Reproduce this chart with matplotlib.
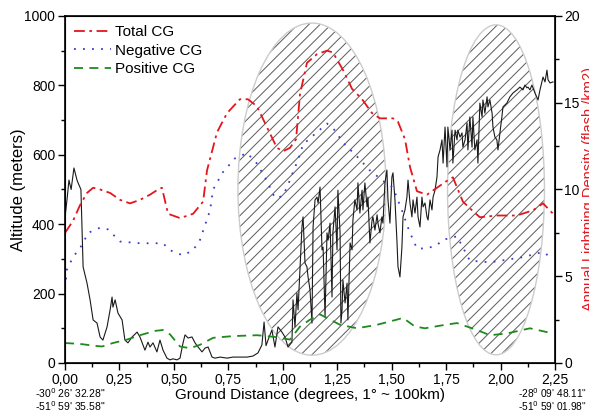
import matplotlib
matplotlib.use("Agg")
import matplotlib.pyplot as plt
from matplotlib.patches import Ellipse
from matplotlib.ticker import MultipleLocator, FuncFormatter

plt.rcParams['font.family'] = ['Liberation Sans', 'DejaVu Sans']
plt.rcParams['hatch.linewidth'] = 0.7

# altitude profile (black line)
alt_dist = [0.000, 0.009, 0.018, 0.028, 0.041, 0.055, 0.060, 0.073, 0.078, 0.083,
            0.101, 0.115, 0.129, 0.147, 0.161, 0.174, 0.193, 0.207, 0.216, 0.220,
            0.230, 0.243, 0.262, 0.275, 0.289, 0.308, 0.331, 0.344, 0.367, 0.381,
            0.390, 0.404, 0.422, 0.436, 0.450, 0.468, 0.482, 0.496, 0.514, 0.528,
            0.542, 0.551, 0.565, 0.583, 0.597, 0.611, 0.629, 0.643, 0.657, 0.675,
            0.689, 0.712, 0.744, 0.771, 0.803, 0.836, 0.863, 0.886, 0.904, 0.914,
            0.923, 0.932, 0.950, 0.964, 0.978, 0.996, 1.010, 1.024, 1.042, 1.047,
            1.056, 1.065, 1.070, 1.088, 1.093, 1.102, 1.111, 1.116, 1.125, 1.134,
            1.139, 1.148, 1.157, 1.162, 1.171, 1.180, 1.185, 1.194, 1.203, 1.208,
            1.217, 1.226, 1.230, 1.240, 1.249, 1.253, 1.263, 1.267, 1.272, 1.276,
            1.286, 1.295, 1.299, 1.309, 1.318, 1.322, 1.331, 1.341, 1.345, 1.354,
            1.364, 1.368, 1.377, 1.387, 1.391, 1.400, 1.410, 1.414, 1.423, 1.433,
            1.437, 1.446, 1.455, 1.460, 1.469, 1.478, 1.483, 1.492, 1.501, 1.506,
            1.515, 1.524, 1.529, 1.538, 1.547, 1.552, 1.561, 1.570, 1.575, 1.584,
            1.593, 1.598, 1.607, 1.616, 1.621, 1.630, 1.639, 1.644, 1.653, 1.662,
            1.667, 1.676, 1.685, 1.690, 1.699, 1.708, 1.713, 1.722, 1.731, 1.736,
            1.745, 1.754, 1.758, 1.768, 1.777, 1.781, 1.791, 1.800, 1.804, 1.814,
            1.823, 1.827, 1.837, 1.846, 1.850, 1.859, 1.869, 1.873, 1.882, 1.892,
            1.896, 1.905, 1.915, 1.919, 1.928, 1.938, 1.942, 1.951, 1.961, 1.965,
            1.974, 1.983, 1.988, 1.997, 2.006, 2.011, 2.029, 2.043, 2.057, 2.075,
            2.089, 2.103, 2.112, 2.121, 2.126, 2.135, 2.144, 2.158, 2.172, 2.181,
            2.195, 2.204, 2.213, 2.218, 2.227, 2.241]
altitude = [420, 470, 527, 500, 562, 527, 519, 500, 383, 277,
            230, 182, 124, 115, 75, 66, 104, 153, 190, 161,
            182, 144, 124, 66, 58, 75, 89, 75, 37, 60,
            46, 58, 32, 66, 37, 14, 9, 12, 9, 14,
            58, 81, 72, 75, 58, 46, 32, 43, 46, 17,
            14, 17, 14, 17, 17, 17, 20, 29, 52, 118,
            50, 66, 95, 46, 104, 89, 75, 46, 60, 182,
            104, 202, 153, 392, 421, 288, 277, 248, 210, 115,
            392, 470, 478, 461, 507, 326, 334, 133, 375, 354,
            403, 190, 375, 450, 326, 498, 375, 115, 153, 239,
            173, 230, 124, 346, 326, 412, 470, 441, 519, 432,
            498, 441, 519, 450, 478, 346, 412, 421, 383, 427,
            403, 375, 421, 403, 519, 556, 470, 403, 536, 548,
            470, 354, 277, 248, 334, 421, 441, 478, 527, 461,
            421, 470, 432, 478, 421, 392, 478, 450, 461, 421,
            412, 470, 441, 478, 498, 536, 594, 614, 643, 576,
            680, 565, 680, 614, 671, 576, 671, 643, 671, 651,
            663, 622, 643, 692, 614, 709, 622, 709, 614, 643,
            576, 749, 709, 758, 720, 767, 738, 758, 720, 680,
            651, 643, 614, 663, 709, 738, 749, 767, 778, 787,
            795, 787, 801, 793, 795, 787, 801, 778, 758, 787,
            824, 810, 844, 816, 807, 810]

# lightning densities (right axis, flash/km2)
total_dist = [0.000, 0.037, 0.069, 0.101, 0.129, 0.161, 0.207, 0.253, 0.298, 0.344,
              0.390, 0.427, 0.445, 0.473, 0.528, 0.588, 0.634, 0.652, 0.698, 0.744,
              0.803, 0.840, 0.881, 0.927, 0.973, 1.001, 1.033, 1.061, 1.079, 1.111,
              1.157, 1.203, 1.230, 1.276, 1.318, 1.364, 1.410, 1.446, 1.506, 1.529,
              1.561, 1.584, 1.616, 1.662, 1.708, 1.754, 1.781, 1.827, 1.869, 1.905,
              1.983, 2.075, 2.149, 2.195, 2.241]
total_cg = [7.5, 8.2, 9.1, 9.8, 10.1, 10.0, 9.8, 9.4, 9.2, 9.4,
            9.7, 10.0, 10.1, 8.6, 8.35, 8.6, 9.3, 11.1, 13.3, 14.4,
            15.2, 15.2, 14.8, 13.6, 12.4, 12.2, 12.4, 12.9, 15.5, 17.3,
            17.8, 18.0, 17.9, 16.9, 15.8, 15.2, 14.4, 14.1, 14.1, 13.9,
            12.9, 11.3, 9.9, 9.7, 10.1, 10.5, 10.7, 9.3, 8.8, 8.4,
            8.5, 8.5, 8.8, 9.2, 8.6]

neg_dist = [0.000, 0.009, 0.037, 0.078, 0.106, 0.161, 0.197, 0.253, 0.344, 0.450,
            0.482, 0.542, 0.588, 0.620, 0.666, 0.680, 0.725, 0.781, 0.836, 0.881,
            0.927, 0.964, 0.996, 1.019, 1.047, 1.070, 1.093, 1.157, 1.203, 1.240,
            1.276, 1.341, 1.400, 1.460, 1.506, 1.547, 1.575, 1.598, 1.616, 1.662,
            1.708, 1.736, 1.800, 1.859, 1.951, 2.103, 2.195, 2.241]
negative_cg = [4.3, 5.4, 6.1, 6.8, 7.5, 7.8, 7.7, 7.0, 6.9, 6.9,
               6.5, 6.2, 6.5, 7.1, 8.8, 10.0, 11.0, 11.8, 12.1, 11.5,
               10.5, 9.5, 9.6, 10.1, 11.0, 11.7, 12.6, 13.3, 13.8, 13.4,
               12.7, 11.9, 11.1, 10.5, 10.1, 8.8, 7.8, 7.1, 6.6, 6.6,
               6.8, 7.1, 7.3, 5.9, 5.8, 6.1, 6.4, 6.0]

pos_dist = [0.000, 0.069, 0.129, 0.170, 0.220, 0.285, 0.344, 0.413, 0.450, 0.482,
            0.528, 0.574, 0.620, 0.680, 0.771, 0.882, 0.964, 1.033, 1.079, 1.125,
            1.171, 1.217, 1.263, 1.341, 1.432, 1.524, 1.552, 1.607, 1.653, 1.745,
            1.800, 1.892, 1.951, 2.029, 2.135, 2.241]
positive_cg = [1.15, 1.1, 1.0, 0.95, 1.15, 1.35, 1.6, 1.85, 1.9, 1.65,
               0.95, 0.85, 1.05, 1.45, 1.55, 1.6, 1.5, 1.35, 2.1, 2.5,
               2.8, 2.5, 2.2, 2.0, 2.2, 2.5, 2.6, 2.1, 2.0, 2.2,
               2.3, 1.9, 1.6, 1.7, 2.0, 1.7]

# hatched highlight regions: (center distance, center altitude, width, height)
regions = [(1.134, 501, 0.68, 957), (1.979, 499, 0.445, 951)]

fig = plt.figure(figsize=(5.89, 4.13), dpi=100)
ax = fig.add_axes([0.1104, 0.1211, 0.8319, 0.8402])

for cx, cy, w, h in regions:
    ax.add_patch(Ellipse((cx, cy), w, h, facecolor='none', edgecolor='#5a5a5a',
                         linewidth=0, hatch='///', zorder=1))
    ax.add_patch(Ellipse((cx, cy), w, h, facecolor='none', edgecolor='#cccccc',
                         linewidth=1.0, zorder=1))

ax.plot(alt_dist, altitude, color='#1a1a1a', lw=0.8, zorder=3)

ax.set_xlim(0, 2.25)
ax.set_ylim(0, 1000)
ax.xaxis.set_major_locator(MultipleLocator(0.25))
ax.xaxis.set_minor_locator(MultipleLocator(0.125))
ax.yaxis.set_major_locator(MultipleLocator(200))
ax.yaxis.set_minor_locator(MultipleLocator(100))
ax.xaxis.set_major_formatter(FuncFormatter(lambda v, p: f"{v:.2f}".replace('.', ',')))
ax.tick_params(which='major', direction='out', length=5, width=1, labelsize=10, pad=2)
ax.tick_params(which='minor', direction='out', length=3, width=1)
ax.set_ylabel('Altitude (meters)', fontsize=12)
ax.yaxis.set_label_coords(-0.08, 0.5)
ax.set_xlabel('Ground Distance (degrees, 1° ~ 100km)', fontsize=11, labelpad=1)
for s in ax.spines.values():
    s.set_linewidth(1.2)

ax2 = ax.twinx()
ax2.plot(total_dist, total_cg, color='#e3161e', lw=1.3, ls=(0, (6, 2.5, 1.5, 2.5)),
         label='Total CG')
ax2.plot(neg_dist, negative_cg, color='#3a3acc', lw=1.3, ls=(0, (1, 4)),
         label='Negative CG')
ax2.plot(pos_dist, positive_cg, color='#1e8a1e', lw=1.3, ls=(0, (5, 3.5)),
         label='Positive CG')
ax2.set_ylim(0, 20)
ax2.yaxis.set_major_locator(MultipleLocator(5))
ax2.yaxis.set_minor_locator(MultipleLocator(2.5))
ax2.tick_params(which='major', direction='out', length=5, width=1, labelsize=10, pad=1.5)
ax2.tick_params(which='minor', direction='out', length=3, width=1)
ax2.set_ylabel('Annual Lightning Density (flash /km2)', color='#e3161e', fontsize=10.5)
ax2.yaxis.set_label_coords(1.056, 0.5)

ax2.legend(loc='upper left', bbox_to_anchor=(0.0, 1.0), frameon=False, fontsize=11,
           handlelength=2.4, handletextpad=0.3, labelspacing=0.3, borderaxespad=0.2)

# start / end coordinates under the axis
fig.text(35 / 589, 1 - 393 / 413, "-30$^0$ 26' 32.28\"", fontsize=7.5, va='center', ha='left')
fig.text(35 / 589, 1 - 406 / 413, "-51$^0$ 59' 35.58\"", fontsize=7.5, va='center', ha='left')
fig.text(518 / 589, 1 - 393 / 413, "-28$^0$ 09' 48.11\"", fontsize=7.3, va='center', ha='left')
fig.text(518 / 589, 1 - 406 / 413, "-51$^0$ 59' 01.98\"", fontsize=7.3, va='center', ha='left')

fig.savefig('out.png', dpi=100)
